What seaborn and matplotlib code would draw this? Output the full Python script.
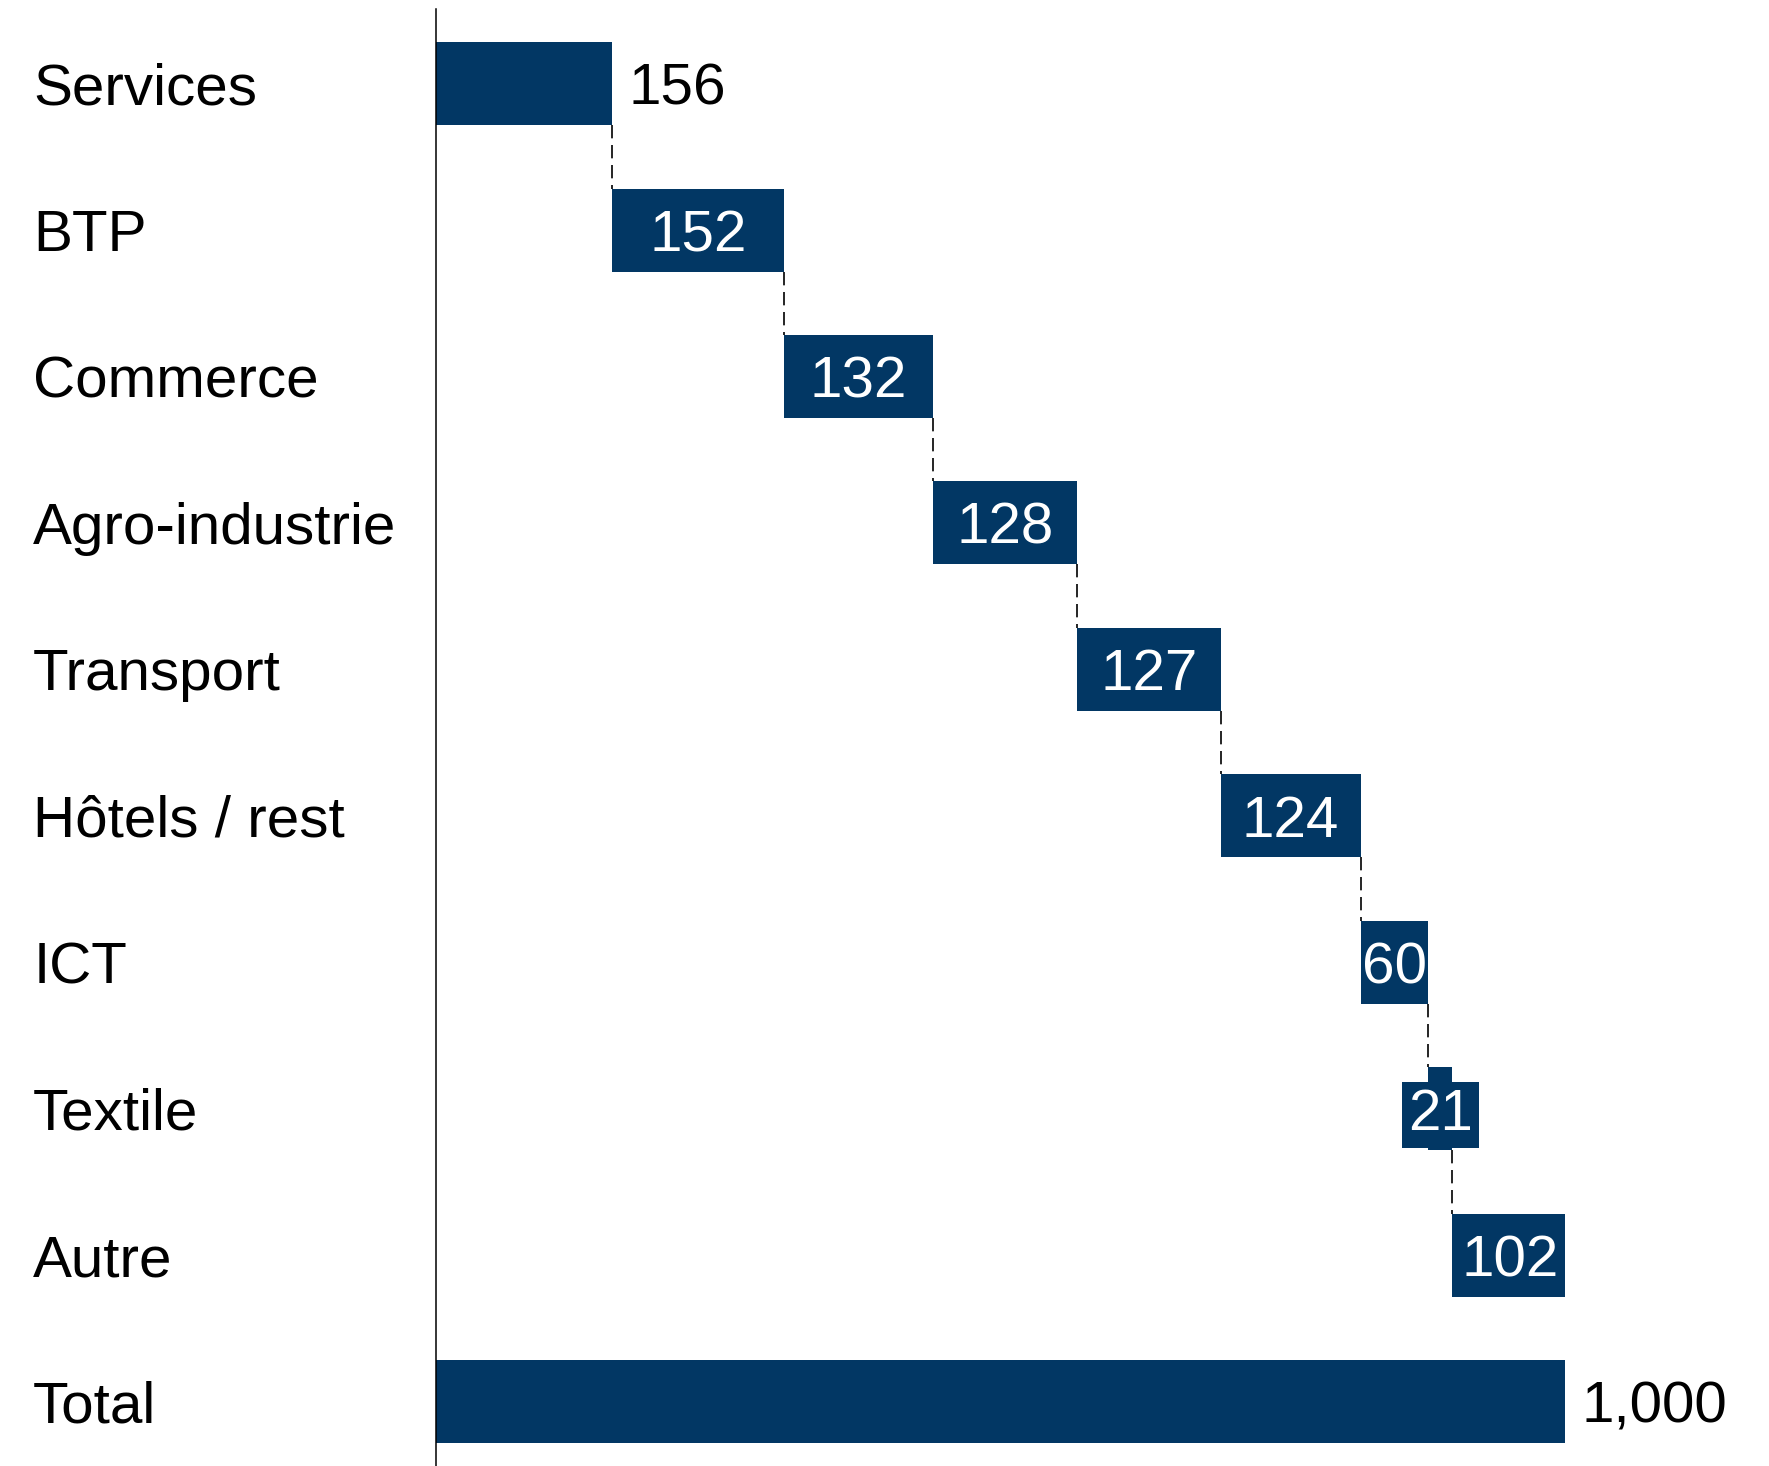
import matplotlib
matplotlib.use("Agg")
import matplotlib.pyplot as plt
import numpy as np
import pandas as pd
import seaborn as sns

categories = ["Services", "BTP", "Commerce", "Agro-industrie", "Transport",
              "Hôtels / rest", "ICT", "Textile", "Autre", "Total"]
values = [156, 152, 132, 128, 127, 124, 60, 21, 102, 1000]
labels = ["156", "152", "132", "128", "127", "124", "60", "21", "102", "1,000"]
outside = ["Services", "Total"]

BLUE = "#023764"
BAR_H = 0.567
FS = 42

# waterfall: each step starts where the previous ended, total starts at 0
ends = list(np.cumsum(values[:-1])) + [values[-1]]
starts = [e - v for e, v in zip(ends, values)]

df = pd.DataFrame({"cat": categories, "value": values})

sns.set_style("white")
plt.rcParams["font.family"] = ["Liberation Sans", "DejaVu Sans"]

fig = plt.figure(figsize=(17.69, 14.66), dpi=100)
ax = fig.add_axes([436 / 1769, 0, 1129 / 1769, 1 - 9 / 1466])
sns.barplot(data=df, x="value", y="cat", color=BLUE, saturation=1,
            width=BAR_H, errorbar=None, linewidth=0, ax=ax)

for patch, s in zip(ax.patches, starts):
    patch.set_x(s)

# dashed connectors
for i in range(len(categories) - 1):
    ax.plot([ends[i], ends[i]], [i + BAR_H / 2, i + 1 - BAR_H / 2],
            color="black", lw=1.2, ls=(0, (8, 4)), zorder=0)

for i, (cat, lab, s, e, v) in enumerate(zip(categories, labels, starts, ends, values)):
    if cat in outside:
        ax.annotate(lab, (e, i), xytext=(12, 0), textcoords="offset points",
                    ha="left", va="center_baseline", fontsize=FS, color="black")
    else:
        kw = {}
        if v < 40:
            kw["bbox"] = dict(boxstyle="square,pad=0.1", fc=BLUE, ec="none")
        ax.text((s + e) / 2, i, lab, ha="center", va="center_baseline",
                fontsize=FS, color="white", **kw)

ax.set_xlim(0, 1000)
ax.set_ylim(9.44, -0.51)
ax.set_xlabel("")
ax.set_ylabel("")
ax.set_xticks([])
for side in ["top", "right", "bottom"]:
    ax.spines[side].set_visible(False)
ax.spines["left"].set_color("black")
ax.spines["left"].set_linewidth(1.1)
ax.tick_params(axis="y", length=0, pad=290, labelsize=FS, labelcolor="black")
for t in ax.get_yticklabels():
    t.set_horizontalalignment("left")

fig.savefig("out.png", dpi=100)
